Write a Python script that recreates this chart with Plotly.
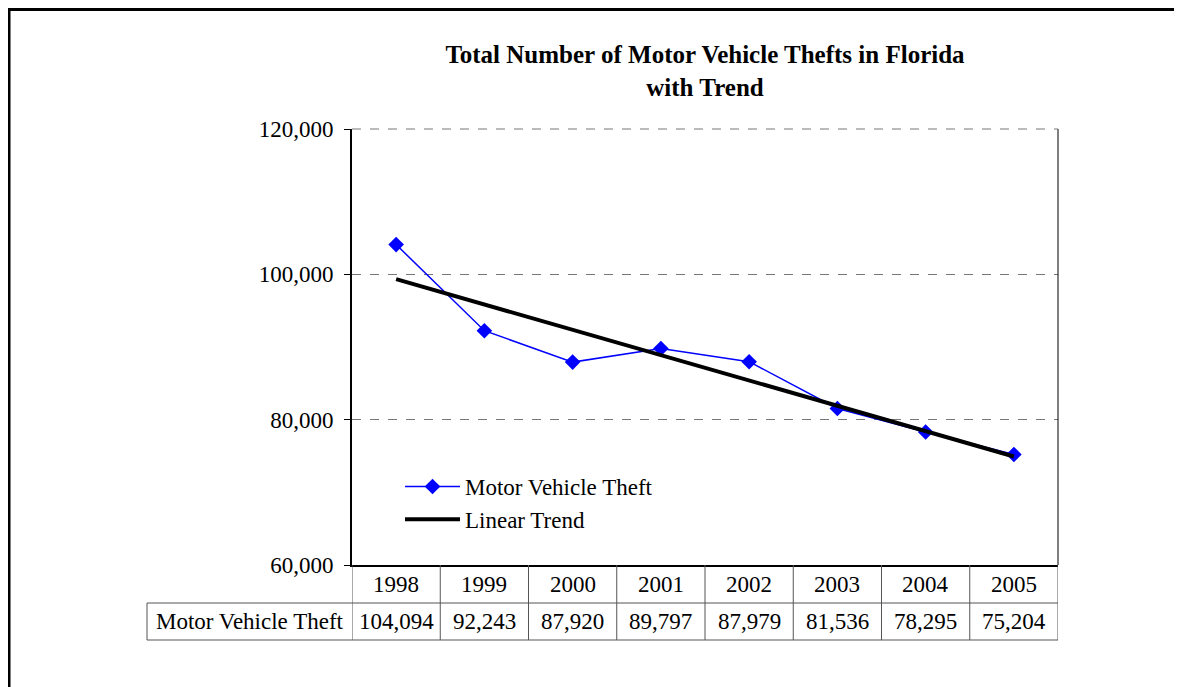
import numpy as np
import plotly.graph_objects as go

years = ['1998', '1999', '2000', '2001', '2002', '2003', '2004', '2005']
thefts = [104094, 92243, 87920, 89797, 87979, 81536, 78295, 75204]
series_name = 'Motor Vehicle Theft'
trend_name = 'Linear Trend'
y_ticks = [60000, 80000, 100000, 120000]

# least squares trend, same as Excel's linear trendline
idx = np.arange(len(thefts))
slope, icpt = np.polyfit(idx, thefts, 1)
trend = slope * idx + icpt

W, H = 1182, 687
OFF = 8  # page body margin, reference pixels -> figure pixels
L, R, T, B = 352 - OFF, 1058 - OFF, 129 - OFF, 565 - OFF   # plot area


def px(x):
    return (x - OFF - L) / (R - L)


def py(y):
    return (B - (y - OFF)) / (B - T)


FONT = 'Liberation Serif, Times New Roman, serif'
GRID = '#555555'
FS = 23
tfont = dict(family=FONT, size=FS, color='black')

fig = go.Figure()
fig.add_trace(go.Scatter(x=idx, y=thefts, name=series_name, mode='lines+markers',
                         line=dict(color='#0000ff', width=1.5),
                         marker=dict(symbol='diamond', size=12, color='#0000ff')))
fig.add_trace(go.Scatter(x=idx, y=trend, name=trend_name, mode='lines',
                         line=dict(color='black', width=4)))

shapes = []
# right frame of plot area and the dashed top gridline
shapes.append(dict(type='line', xref='paper', yref='paper', x0=1, x1=1, y0=0, y1=1,
                   line=dict(color='black', width=1)))
shapes.append(dict(type='line', xref='paper', yref='paper', x0=0, x1=1, y0=1, y1=1,
                   line=dict(color='#777777', width=1, dash='dash')))
# data table grid
row1 = py(603)
row2 = py(640)
for k in range(len(years) + 1):
    shapes.append(dict(type='line', xref='x', yref='paper', x0=k - 0.5, x1=k - 0.5,
                       y0=0, y1=row2, line=dict(color=GRID, width=1)))
for yy in (row1, row2):
    shapes.append(dict(type='line', xref='paper', yref='paper', x0=px(147), x1=1,
                       y0=yy, y1=yy, line=dict(color=GRID, width=1)))
shapes.append(dict(type='line', xref='paper', yref='paper', x0=px(147), x1=px(147),
                   y0=row1, y1=row2, line=dict(color=GRID, width=1)))
# outer chart border (only left and top visible)
shapes.append(dict(type='line', xref='paper', yref='paper', x0=px(9), x1=px(9),
                   y0=py(9.5), y1=py(720), line=dict(color='black', width=3)))
shapes.append(dict(type='line', xref='paper', yref='paper', x0=px(8), x1=px(1220),
                   y0=py(9.5), y1=py(9.5), line=dict(color='black', width=3)))

annotations = []
for k, (yr, v) in enumerate(zip(years, thefts)):
    annotations.append(dict(x=k, y=(py(565) + row1) / 2, xref='x', yref='paper',
                            text=yr, showarrow=False, xanchor='center', yanchor='middle',
                            font=tfont))
    annotations.append(dict(x=k, y=(row1 + row2) / 2, xref='x', yref='paper',
                            text=f'{v:,}', showarrow=False, xanchor='center', yanchor='middle',
                            font=tfont))
annotations.append(dict(x=(px(147) + px(352)) / 2, y=(row1 + row2) / 2, xref='paper',
                        yref='paper', text=series_name, showarrow=False,
                        xanchor='center', yanchor='middle', font=tfont))

fig.update_layout(
    width=W, height=H,
    margin=dict(l=L, r=W - R, t=T, b=H - B),
    paper_bgcolor='white', plot_bgcolor='white',
    font=tfont,
    title=dict(text='<b>Total Number of Motor Vehicle Thefts in Florida<br>with Trend</b>',
               x=(705 - OFF) / W, xanchor='center', y=1 - (63 - OFF) / H, yanchor='middle',
               font=dict(family=FONT, size=25, color='black')),
    showlegend=True,
    legend=dict(x=px(400), y=py(465), xanchor='left', yanchor='top', itemwidth=55,
                bgcolor='rgba(0,0,0,0)', font=tfont, tracegroupgap=0),
    shapes=shapes, annotations=annotations,
)
fig.update_xaxes(range=[-0.5, len(years) - 0.5], showticklabels=False, showgrid=False,
                 zeroline=False, showline=True, linecolor='black', linewidth=2, ticks='')
fig.update_yaxes(range=[60000, 120000], tickvals=y_ticks, tickformat=',d',
                 tickfont=tfont,
                 showgrid=True, gridcolor='#777777', griddash='dash', gridwidth=1,
                 zeroline=False, showline=True, linecolor='black', linewidth=2,
                 ticks='outside', ticklen=6, tickcolor='black', ticklabelstandoff=6)

fig.write_html('out.html')
